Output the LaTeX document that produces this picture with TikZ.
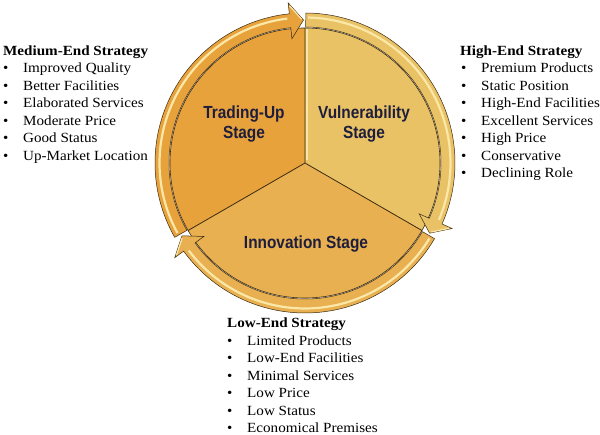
\documentclass[tikz,border=0pt]{standalone}
\usepackage{fontspec}
\setmainfont{Liberation Serif}
\newfontfamily\listfont[FakeStretch=1.08]{Liberation Serif}
\newfontfamily\stagefont[FakeStretch=0.88]{Liberation Sans}
\definecolor{cTU}{HTML}{E8A23C}
\definecolor{cVU}{HTML}{E9C266}
\definecolor{cIN}{HTML}{E8B050}
\definecolor{edgec}{HTML}{3A2A10}
\definecolor{hl}{HTML}{FBE7A8}
\definecolor{txt}{HTML}{1E1E3C}
\begin{document}
\begin{tikzpicture}[x=1pt,y=-1pt,
  stage/.style={font=\stagefont\bfseries\fontsize{17.5}{20}\selectfont, text=txt, align=center, inner sep=0pt},
  head/.style={font=\listfont\bfseries\fontsize{14}{16}\selectfont, anchor=base west, inner sep=0pt},
  item/.style={font=\listfont\fontsize{14}{16}\selectfont, anchor=base west, inner sep=0pt}]
\useasboundingbox (0,0) rectangle (600,435);
\begin{scope}[shift={(305,163)}, yscale=-1]
  % pie sectors
  \fill[cTU] (0,0) -- (90:135) arc[start angle=90, end angle=210, radius=135] -- cycle;
  \fill[cVU] (0,0) -- (-30:135) arc[start angle=-30, end angle=90, radius=135] -- cycle;
  \fill[cIN] (0,0) -- (210:135) arc[start angle=210, end angle=330, radius=135] -- cycle;
  \draw[hl, line width=2] (2,3) -- (2,134);
  \draw[edgec, line width=0.8] (0,0) -- (90:135) (0,0) -- (210:135) (0,0) -- (330:135);
  \draw[edgec, line width=0.6] (0,0) circle[radius=135];
  % ring arcs with arrowheads
  \foreach \s/\e/\c in {210/90/cTU, 90/-30/cVU, -30/-150/cIN}{
    \filldraw[fill=\c, draw=edgec, line width=0.5]
      (\s-0.3:150) arc[start angle=\s-0.3, end angle=\e+6, radius=150]
      -- (\e+6:161) -- (\e+0.6:143) -- (\e+6:125) -- (\e+6:136)
      arc[start angle=\e+6, end angle=\s-0.3, radius=136] -- cycle;
    \draw[hl, line width=2.2] (\s-1.2:145.5) arc[start angle=\s-1.2, end angle=\e+7, radius=145.5];
    \draw[hl, line width=1.2] (\e+5.6:158) -- (\e+1.4:144);
  }
\end{scope}
% stage labels
\node[stage] (tu) at (244,124) {Trading-Up\\Stage};
\node[stage] (vu) at (364,124) {Vulnerability\\Stage};
\node[stage] (inn) at (306,244.5) {Innovation Stage};
% Medium-End list
\node[head] (mh) at (3,55.5) {Medium-End Strategy};
\foreach \t [count=\i] in {Improved Quality, Better Facilities, Elaborated Services, Moderate Price, Good Status, Up-Market Location}{
  \node[item] (mb\i) at (3,55.5+17.5*\i) {•};
  \node[item] (mt\i) at (23,55.5+17.5*\i) {\t};
}
% High-End list
\node[head] (hh) at (460,55.5) {High-End Strategy};
\foreach \t [count=\i] in {Premium Products, Static Position, High-End Facilities, Excellent Services, High Price, Conservative, Declining Role}{
  \node[item] (hb\i) at (461,55.5+17.5*\i) {•};
  \node[item] (ht\i) at (481,55.5+17.5*\i) {\t};
}
% Low-End list
\node[head] (lh) at (227,328) {Low-End Strategy};
\foreach \t [count=\i] in {Limited Products, Low-End Facilities, Minimal Services, Low Price, Low Status, Economical Premises}{
  \node[item] (lb\i) at (227,328+17.5*\i) {•};
  \node[item] (lt\i) at (247,328+17.5*\i) {\t};
}
\end{tikzpicture}
\end{document}
